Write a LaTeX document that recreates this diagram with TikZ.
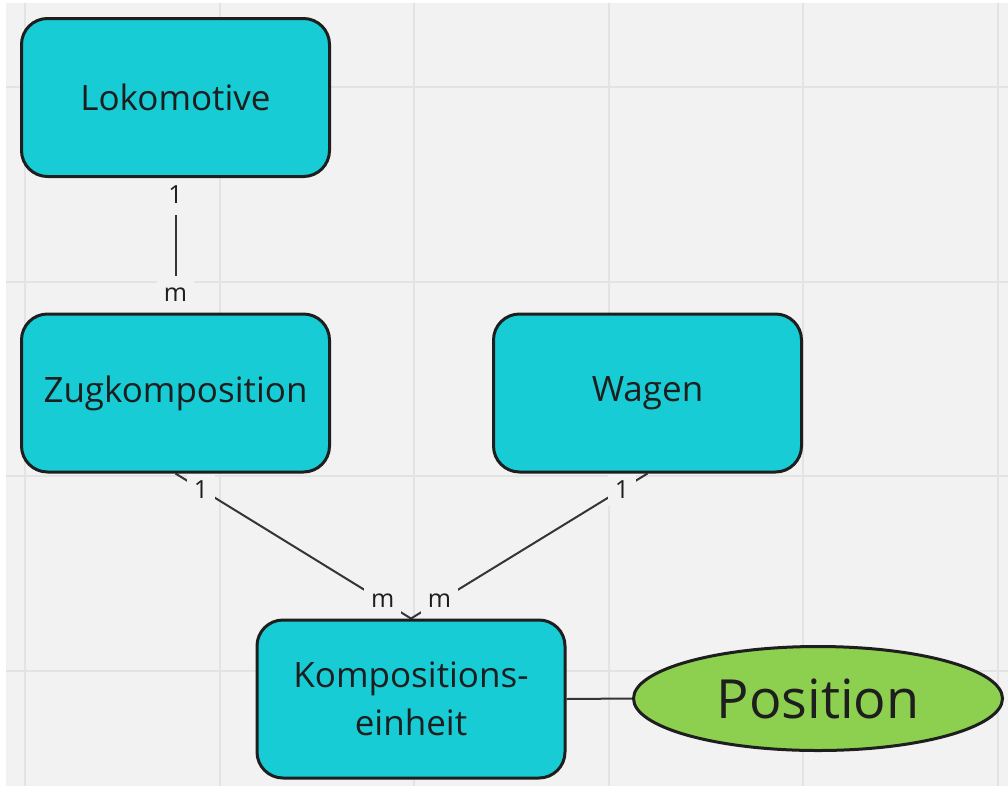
\documentclass[tikz,border=0pt]{standalone}
\usepackage{fontspec}
\setmainfont{Open Sans}
\usetikzlibrary{shapes.geometric}
\pgfdeclarelayer{gridlayer}
\pgfdeclarelayer{edgelayer}
\pgfsetlayers{gridlayer,edgelayer,main}
\definecolor{bgc}{HTML}{F2F2F2}
\definecolor{gridc}{HTML}{E3E3E3}
\definecolor{cyanbox}{HTML}{17CCD5}
\definecolor{greenell}{HTML}{8DD050}
\definecolor{inkc}{HTML}{1E1E1E}
\tikzset{
  entity/.style={draw=inkc, line width=3pt, fill=cyanbox, rounded corners=26pt,
    minimum width=308pt, minimum height=158pt, inner sep=0pt, align=center,
    font=\fontsize{35}{48}\selectfont, text=inkc},
  attr/.style={draw=inkc, line width=3pt, fill=greenell, ellipse,
    minimum width=369pt, minimum height=104pt, inner sep=0pt,
    font=\fontsize{54}{60}\selectfont, text=inkc},
  conn/.style={draw=inkc!90, line width=2pt},
  lbl/.style={fill=bgc, inner xsep=7pt, inner ysep=8pt, text=inkc,
    font=\fontsize{25}{27}\selectfont},
  vlbl/.style={lbl, inner ysep=12pt},
  gridline/.style={draw=gridc, line width=2pt}
}
\begin{document}
\begin{tikzpicture}[x=1pt,y=-1pt]
\useasboundingbox (0,0) rectangle (1008,790);
\begin{pgfonlayer}{gridlayer}
\fill[white] (0,0) rectangle (1008,790);
\fill[bgc] (6,3) rectangle (1008,786);
\foreach \gx in {25,219.5,414,608.5,803,997.5}
  \draw[gridline] (\gx,3) -- (\gx,786);
\foreach \gy in {87,281.5,476,670.5}
  \draw[gridline] (6,\gy) -- (1008,\gy);
\end{pgfonlayer}

\node[entity] (loko) at (175.5,97.5) {Lokomotive};
\node[entity] (zug) at (175.5,393) {Zugkomposition};
\node[entity] (wagen) at (647.5,393) {Wagen};
\node[entity] (ke) at (411,699) {Kompositions-\\einheit};
\node[attr] (pos) at (818,698.5) {Position};

\begin{pgfonlayer}{edgelayer}
\draw[conn] (loko.south) -- (zug.north)
  node[vlbl, pos=0.12] {1} node[vlbl, pos=0.87] {m};
\draw[conn] (zug.south) -- (ke.north)
  node[lbl, pos=0.108] {1} node[lbl, pos=0.88] {m};
\draw[conn] (wagen.south) -- (ke.north)
  node[lbl, pos=0.108] {1} node[lbl, pos=0.88] {m};
\draw[conn] (ke.east) -- (pos.west);
\end{pgfonlayer}
\end{tikzpicture}
\end{document}
